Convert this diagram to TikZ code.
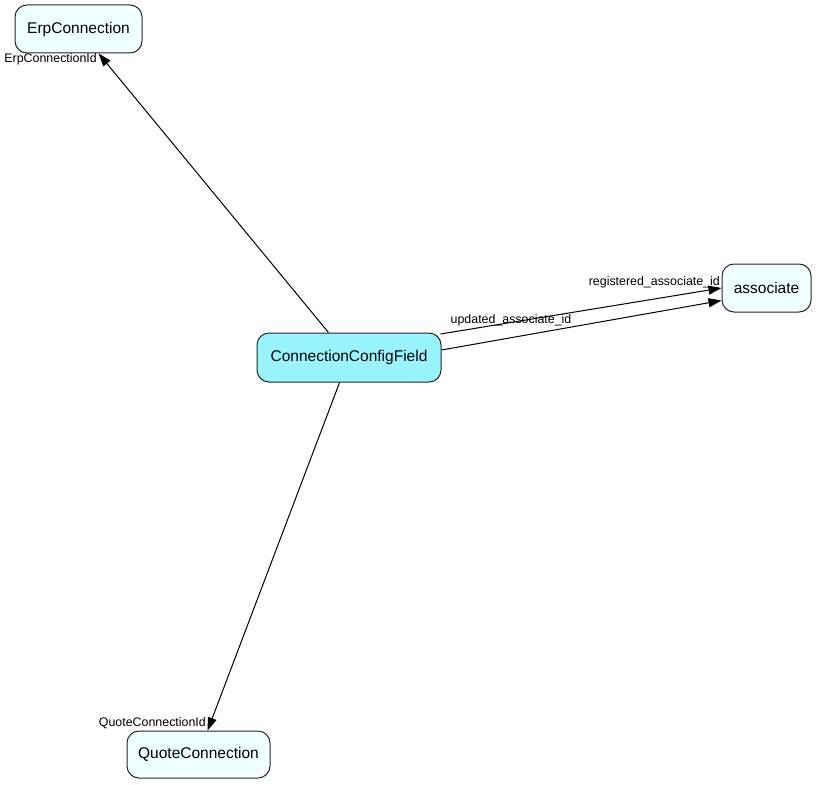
\documentclass[tikz,border=0pt]{standalone}
\usepackage{fontspec}
\setmainfont{Liberation Sans}
\usetikzlibrary{arrows.meta,calc}
\definecolor{tblfill}{HTML}{F0FFFF}
\definecolor{mainfill}{HTML}{98F5FF}
\begin{document}
\begin{tikzpicture}[x=1pt,y=-1pt,
  tbl/.style={draw=black!85, line width=1pt, rounded corners=12pt, fill=tblfill,
    inner sep=0pt, font=\fontsize{15.5}{18}\selectfont},
  maintbl/.style={tbl, fill=mainfill},
  fk/.style={draw=black, line width=1pt, -{Triangle[length=13pt,width=9pt]}},
  lbl/.style={inner sep=0pt, font=\fontsize{12.4}{14}\selectfont}]
\useasboundingbox (0,0) rectangle (818,784);
\node[maintbl, minimum width=184pt, minimum height=49pt] (cc) at (349,357.5) {ConnectionConfigField};
\node[tbl, minimum width=127pt, minimum height=48pt] (erp) at (78.5,29) {ErpConnection};
\node[tbl, minimum width=89pt, minimum height=48pt] (as) at (766.5,288) {associate};
\node[tbl, minimum width=143pt, minimum height=47pt] (qc) at (198.5,754.5) {QuoteConnection};
\draw[fk] (cc) -- (erp);
\draw[fk] (cc) -- (qc);
\draw[fk] ($(cc.east)+(-1,-23.5)$) -- (as.west);
\draw[fk] ($(cc.east)+(0,-7.5)$) -- ($(as.west)+(0,12.5)$);
\node[lbl, anchor=east] (l1) at (97,59) {ErpConnectionId};
\node[lbl, anchor=east] (l2) at (206,723) {QuoteConnectionId};
\node[lbl, anchor=east] (l3) at (720,282.5) {registered\_associate\_id};
\node[lbl, anchor=west] (l4) at (450.5,320.5) {updated\_associate\_id};
\end{tikzpicture}
\end{document}
